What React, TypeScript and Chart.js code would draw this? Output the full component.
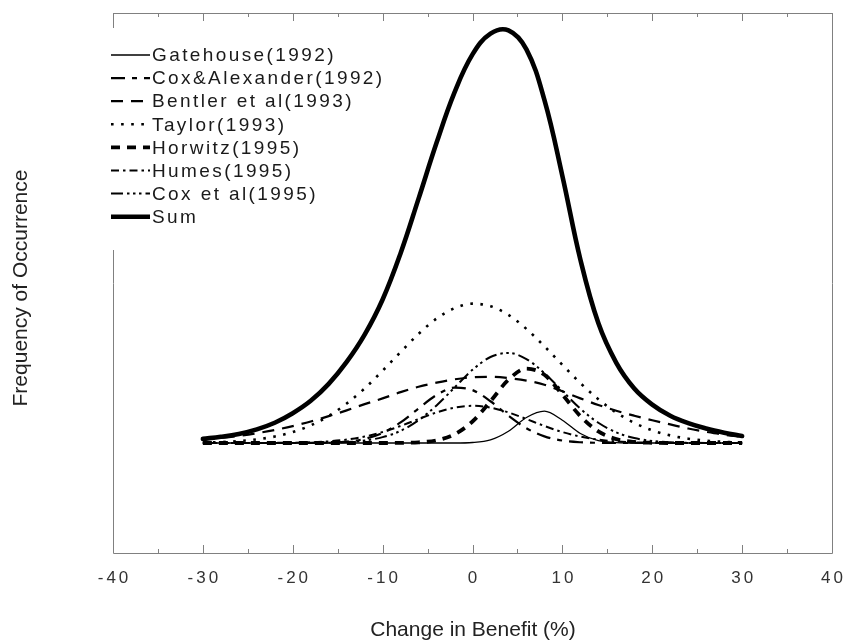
import React, { useEffect, useRef } from "react";
import { Chart, registerables } from "chart.js";

Chart.register(...registerables);

// x positions (Change in Benefit, %)
const xValues = [-30, -28, -26, -24, -22, -20, -18, -16, -14, -12, -10, -8, -6, -4, -2, 0, 2, 4, 6, 8, 10, 12, 14, 16, 18, 20, 22, 24, 26, 28, 30];

const gatehouse1992 = [0, 0, 0, 0, 0, 0, 0, 0, 0, 0, 0, 0, 0, 0, 0, 0.0012, 0.0077, 0.0286, 0.0617, 0.077, 0.0552, 0.023, 0.0055, 0.001, 0, 0, 0, 0, 0, 0, 0];
const coxAlexander1992 = [0, 0, 0, 0, 0, 0, 0.0002, 0.0009, 0.0034, 0.01, 0.0245, 0.0497, 0.0837, 0.116, 0.134, 0.128, 0.101, 0.066, 0.0357, 0.016, 0.0059, 0.0018, 0.0005, 0, 0, 0, 0, 0, 0, 0, 0];
const bentler1993 = [0.0086, 0.0124, 0.0173, 0.0237, 0.0315, 0.041, 0.052, 0.065, 0.079, 0.094, 0.108, 0.123, 0.136, 0.146, 0.154, 0.159, 0.16, 0.157, 0.151, 0.141, 0.125, 0.108, 0.092, 0.078, 0.066, 0.055, 0.045, 0.035, 0.027, 0.02, 0.015];
const taylor1993 = [0.0012, 0.0024, 0.0047, 0.0088, 0.0156, 0.0266, 0.0426, 0.0654, 0.0954, 0.132, 0.175, 0.22, 0.264, 0.301, 0.326, 0.337, 0.331, 0.31, 0.276, 0.234, 0.189, 0.145, 0.106, 0.0736, 0.0487, 0.0307, 0.0184, 0.0105, 0.0057, 0.003, 0.0015];
const horwitz1995 = [0, 0, 0, 0, 0, 0, 0, 0, 0, 0, 0, 0.0003, 0.0016, 0.0065, 0.021, 0.052, 0.101, 0.153, 0.18, 0.165, 0.117, 0.065, 0.028, 0.0095, 0.0025, 0.0005, 0, 0, 0, 0, 0];
const humes1995 = [0, 0, 0.0001, 0.0001, 0.0003, 0.0007, 0.0017, 0.004, 0.0083, 0.0156, 0.0266, 0.0412, 0.058, 0.074, 0.0857, 0.09, 0.0857, 0.074, 0.058, 0.0412, 0.0266, 0.0156, 0.0083, 0.004, 0.0017, 0.0007, 0.0003, 0.0001, 0.0001, 0, 0];
const coxEtAl1995 = [0, 0, 0, 0, 0, 0.0001, 0.0002, 0.0008, 0.0023, 0.006, 0.0142, 0.0295, 0.055, 0.091, 0.134, 0.177, 0.208, 0.218, 0.203, 0.169, 0.126, 0.083, 0.049, 0.0257, 0.012, 0.005, 0.0019, 0.0006, 0.0002, 0, 0];
const sumValues = [0.01, 0.015, 0.022, 0.033, 0.049, 0.072, 0.102, 0.143, 0.196, 0.262, 0.347, 0.459, 0.591, 0.726, 0.848, 0.94, 0.99, 0.998, 0.952, 0.83, 0.646, 0.444, 0.29, 0.194, 0.132, 0.093, 0.066, 0.048, 0.035, 0.025, 0.017];

const seriesLabels = ["Gatehouse(1992)", "Cox&Alexander(1992)", "Bentler et al(1993)", "Taylor(1993)", "Horwitz(1995)", "Humes(1995)", "Cox et al(1995)", "Sum"];
const seriesValues = [gatehouse1992, coxAlexander1992, bentler1993, taylor1993, horwitz1995, humes1995, coxEtAl1995, sumValues];

const xTickValues = [-40, -30, -20, -10, 0, 10, 20, 30, 40];
const xTickLabels = ["-40", "-30", "-20", "-10", "0", "10", "20", "30", "40"];
const xMinorTickValues = [-35, -25, -15, -5, 5, 15, 25, 35];

const xTitle = "Change in Benefit (%)";
const yTitle = "Frequency of Occurrence";

const lineStyles = [
  { width: 1.3, dash: [] as number[], cap: "butt" },
  { width: 2.2, dash: [14, 7, 5, 7], cap: "butt" },
  { width: 2.2, dash: [12, 8], cap: "butt" },
  { width: 2.6, dash: [2.6, 7.5], cap: "butt" },
  { width: 3.8, dash: [9, 7], cap: "butt" },
  { width: 2.0, dash: [8, 4, 2.5, 4], cap: "butt" },
  { width: 2.0, dash: [12, 4, 2.5, 3.5, 2.5, 3.5, 2.5, 4], cap: "butt" },
  { width: 4.6, dash: [] as number[], cap: "round" },
];

const FONT = '"Liberation Sans", Arial, Helvetica, sans-serif';

const decorPlugin = {
  id: "decor",
  beforeDatasetsDraw(chart: any) {
    const ctx = chart.ctx as CanvasRenderingContext2D;
    const { left, right, top, bottom } = chart.chartArea;
    const xs = chart.scales.x;
    ctx.save();
    ctx.strokeStyle = "#808080";
    ctx.lineWidth = 1;
    ctx.beginPath();
    ctx.moveTo(left + 0.5, top + 0.5);
    ctx.lineTo(right + 0.5, top + 0.5);
    ctx.lineTo(right + 0.5, bottom + 0.5);
    ctx.lineTo(left + 0.5, bottom + 0.5);
    ctx.closePath();
    ctx.stroke();
    ctx.beginPath();
    const drawTick = (v: number, len: number) => {
      const px = Math.round(xs.getPixelForValue(v)) + 0.5;
      ctx.moveTo(px, bottom);
      ctx.lineTo(px, bottom - len);
      ctx.moveTo(px, top);
      ctx.lineTo(px, top + len);
    };
    xTickValues.forEach((v) => drawTick(v, 8));
    xMinorTickValues.forEach((v) => drawTick(v, 4));
    ctx.stroke();
    ctx.restore();
  },
  afterDraw(chart: any) {
    const ctx = chart.ctx as CanvasRenderingContext2D;
    const xs = chart.scales.x;
    ctx.save();
    // legend box covering the left part of the frame
    ctx.fillStyle = "#ffffff";
    ctx.fillRect(104, 28, 290, 222);
    const datasets = chart.data.datasets;
    seriesLabels.forEach((label, i) => {
      const y = 55 + 23.1 * i;
      const st = lineStyles[i];
      ctx.save();
      ctx.strokeStyle = "#000";
      ctx.lineWidth = st.width;
      ctx.setLineDash(st.dash);
      ctx.lineCap = "butt";
      ctx.beginPath();
      ctx.moveTo(111, y);
      ctx.lineTo(150, y);
      ctx.stroke();
      ctx.restore();
      ctx.fillStyle = "#1a1a1a";
      ctx.font = `19px ${FONT}`;
      (ctx as any).letterSpacing = "2.4px";
      ctx.textAlign = "left";
      ctx.textBaseline = "middle";
      ctx.fillText(datasets[i].label, 152, y + 1);
    });
    // x tick labels
    ctx.font = `17px ${FONT}`;
    (ctx as any).letterSpacing = "3px";
    ctx.fillStyle = "#333";
    ctx.textAlign = "center";
    ctx.textBaseline = "middle";
    xTickValues.forEach((v, i) => {
      const px = xs.getPixelForValue(v);
      ctx.fillText(xTickLabels[i], px + 1.5, 578);
    });
    (ctx as any).letterSpacing = "0px";
    // axis titles
    ctx.font = `21px ${FONT}`;
    ctx.fillStyle = "#222";
    ctx.fillText(xTitle, 473, 630);
    ctx.translate(21, 288);
    ctx.rotate(-Math.PI / 2);
    ctx.fillText(yTitle, 0, 0);
    ctx.restore();
  },
};

export default function App() {
  const canvasRef = useRef<HTMLCanvasElement | null>(null);

  useEffect(() => {
    const canvas = canvasRef.current;
    if (!canvas) return;
    const datasets = seriesLabels.map((label, i) => {
      const isSum = i === seriesLabels.length - 1;
      return {
        label,
        data: xValues.map((x, j) => ({ x, y: seriesValues[i][j] })),
        borderColor: "#000000",
        backgroundColor: "#000000",
        borderWidth: lineStyles[i].width,
        borderDash: lineStyles[i].dash,
        borderCapStyle: lineStyles[i].cap,
        borderJoinStyle: "round",
        pointRadius: 0,
        fill: false,
        cubicInterpolationMode: isSum ? "default" : "monotone",
        tension: isSum ? 0.4 : 0,
      };
    });
    const chart = new Chart(canvas, {
      type: "line",
      data: { datasets } as any,
      options: {
        animation: false,
        responsive: false,
        maintainAspectRatio: false,
        devicePixelRatio: 1,
        layout: { padding: { left: 113, right: 16, top: 13, bottom: 91 } },
        scales: {
          x: { type: "linear", min: -40, max: 40, display: false },
          y: { type: "linear", min: -0.266, max: 1.04, display: false },
        },
        plugins: {
          legend: { display: false },
          tooltip: { enabled: false },
        },
      } as any,
      plugins: [decorPlugin],
    });
    return () => chart.destroy();
  }, []);

  return (
    <div style={{ position: "absolute", left: 0, top: 0, width: 848, height: 644, background: "#fff" }}>
      <canvas ref={canvasRef} width={848} height={644} style={{ width: 848, height: 644, display: "block" }} />
    </div>
  );
}
